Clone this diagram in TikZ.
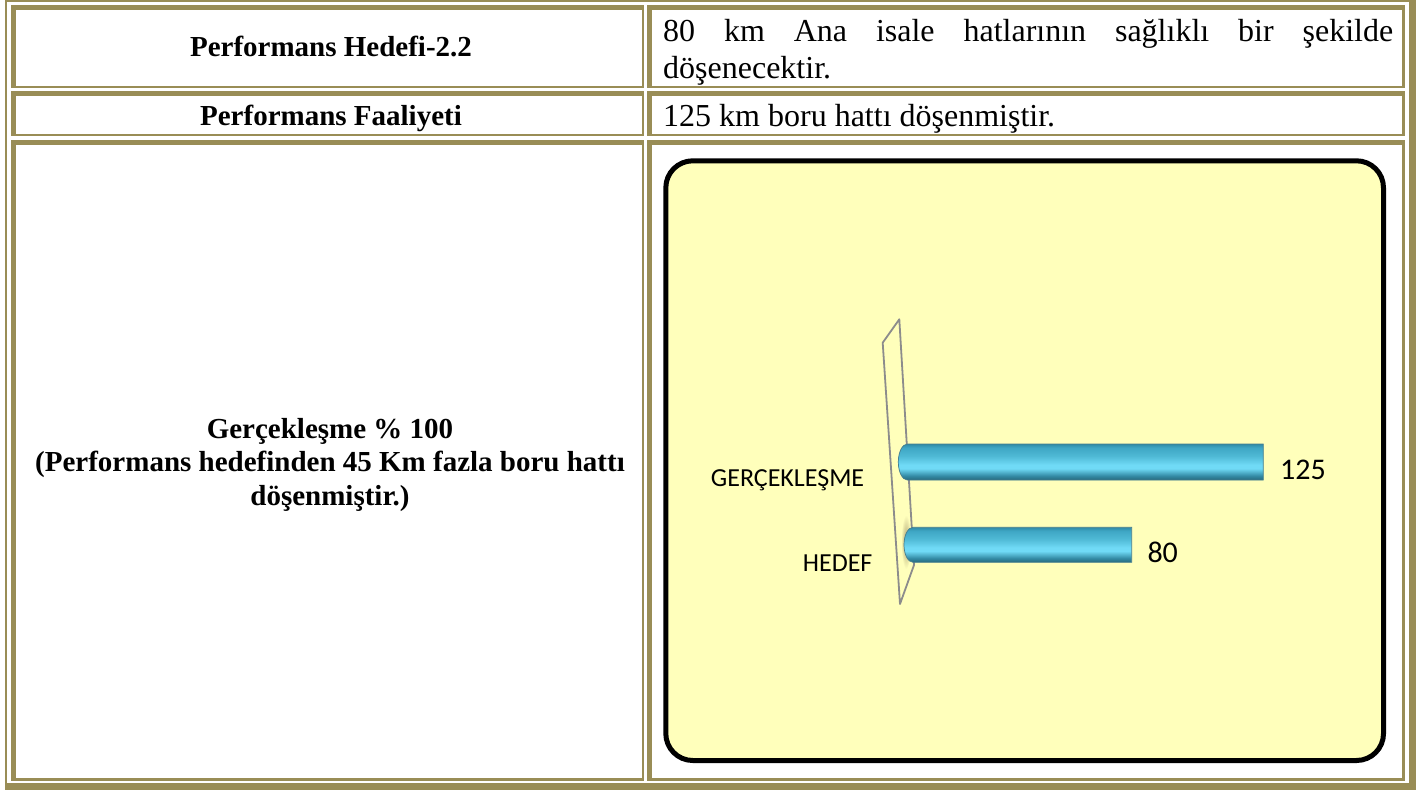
\documentclass[tikz,border=0pt]{standalone}
\usepackage{fontspec}
\setmainfont{Liberation Serif}
\newfontfamily\calib{Carlito}
\definecolor{olv}{RGB}{153,141,86}
\definecolor{chartbg}{RGB}{255,255,187}
\definecolor{wallgray}{RGB}{140,140,140}
\definecolor{cylA}{RGB}{38,104,124}
\definecolor{cylB}{RGB}{52,140,166}
\definecolor{cylC}{RGB}{112,218,246}
\definecolor{cylD}{RGB}{80,186,214}
\definecolor{cylE}{RGB}{62,166,196}
\definecolor{cylF}{RGB}{48,138,166}
\pgfdeclareverticalshading{cylshade}{100bp}{color(0bp)=(cylA); color(25bp)=(cylA); color(31bp)=(cylB); color(41bp)=(cylC); color(46bp)=(cylC); color(58bp)=(cylD); color(70bp)=(cylE); color(75bp)=(cylF); color(100bp)=(cylF)}
\tikzset{
  hb/.style={font=\fontsize{29}{33}\selectfont\bfseries, inner sep=0pt, anchor=base},
  rt/.style={font=\fontsize{32}{37}\selectfont, inner sep=0pt, anchor=base west},
  cl/.style={font=\calib\fontsize{26}{30}\selectfont, inner sep=0pt, anchor=base west},
  vl/.style={font=\calib\fontsize{30}{34}\selectfont, inner sep=0pt, anchor=base west},
  cylbar/.style={shade, shading=cylshade, draw=cylA!85, line width=0.7pt},
  wallline/.style={draw=wallgray, line width=1.8pt, line join=round},
  chartbox/.style={draw=black, line width=5pt, fill=chartbg, rounded corners=27pt}
}
\begin{document}
\begin{tikzpicture}[x=1pt,y=-1pt]
\useasboundingbox (0,0) rectangle (1424,790);
% outer table frame
\fill[olv] (4.7,0) rectangle (1415.7,790);
\fill[white] (6.7,1.7) rectangle (1409,783.3);
% cells
\foreach \xa/\ya/\xb/\yb in {10.7/4.7/644/88.3, 646.7/4.7/1404.7/88.3, 10.7/90.7/644/136, 646.7/90.7/1404.7/136, 10.7/140/644/780.7, 646.7/140/1404.7/780.7}{
  \fill[olv] (\xa,\ya) rectangle (\xb,\yb);
  \fill[white] (\xa+5,\ya+5) rectangle (\xb-2.5,\yb-2.5);
}
% texts
\node[hb] (h1) at (331,56) {Performans Hedefi-2.2};
\node[hb] (h2) at (331,125) {Performans Faaliyeti};
\node[hb] (g1) at (330,438.3) {Gerçekleşme \% 100};
\node[hb] (g2) at (330,471.8) {(Performans hedefinden 45 Km fazla boru hattı};
\node[hb] (g3) at (330,505.3) {döşenmiştir.)};
\node[rt] (t1) at (663,41) {\makebox[730pt][s]{80 km Ana isale hatlarının sağlıklı bir şekilde}};
\node[rt] (t2) at (663,78) {döşenecektir.};
\node[rt] (t3) at (663,126.5) {125 km boru hattı döşenmiştir.};
% chart
\draw[chartbox] (665.8,160.8) rectangle (1383.5,760.5);
\draw[wallline] (882.7,342.7) -- (899.3,319.3) -- (914,565) -- (900,604) -- cycle;
\shade[inner color=olv!85, outer color=chartbg] (906,542) ellipse [x radius=5pt, y radius=27pt];
\path[cylbar] (1263.3,444) -- (907.3,444) arc[start angle=270, end angle=90, x radius=9, y radius=18] -- (1263.3,480) -- cycle;
\path[cylbar] (1131.7,527.3) -- (913,527.3) arc[start angle=270, end angle=90, x radius=9, y radius=17.5] -- (1131.7,562.3) -- cycle;
\node[cl] (lg) at (710.7,486.7) {GERÇEKLEŞME};
\node[cl] (lh) at (802.7,571) {HEDEF};
\node[vl] (v1) at (1280,479.3) {125};
\node[vl] (v2) at (1147.3,562.7) {80};
\end{tikzpicture}
\end{document}
